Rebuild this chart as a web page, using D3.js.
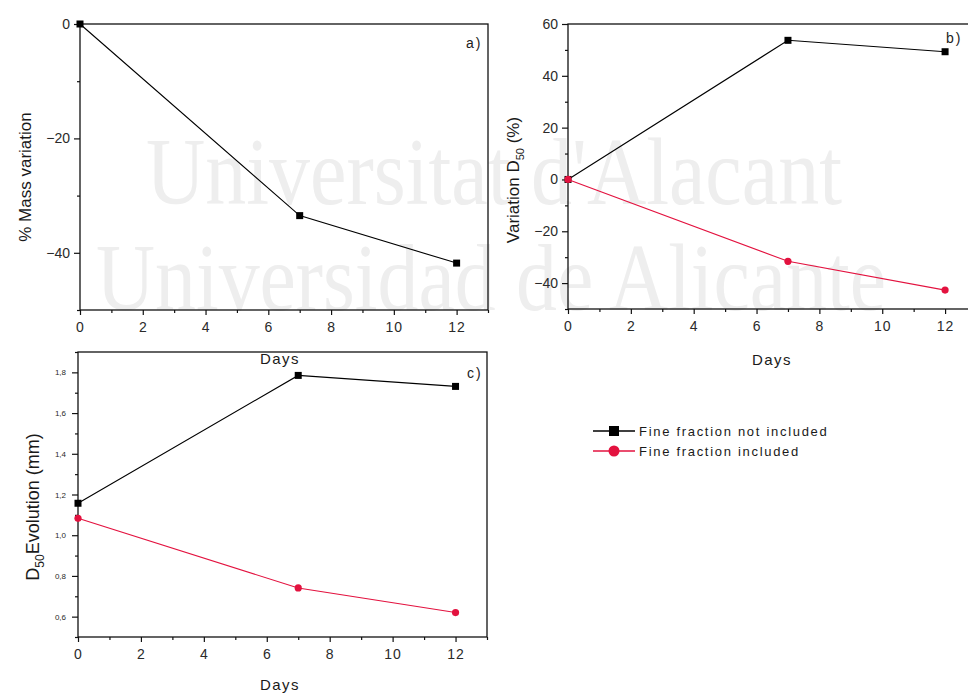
<!DOCTYPE html>
<html>
<head>
<meta charset="utf-8">
<script src="https://cdn.jsdelivr.net/npm/d3@7"></script>
<style>
  body { margin: 0; background: #fff; }
  text { font-family: "Liberation Sans", Arial, sans-serif; }
</style>
</head>
<body>
<script>
// values
var days = [0, 7, 12];
var massVariation = [0, -33.5, -41.8];            // a)
var d50VarNotIncluded = [0, 53.7, 49.3];          // b) black
var d50VarIncluded = [0, -31.6, -42.7];           // b) red
var d50NotIncluded = [1.157, 1.785, 1.731];       // c) black
var d50Included = [1.083, 0.741, 0.62];           // c) red
var seriesNames = ["Fine fraction not included", "Fine fraction included"];

var xTicks = [0, 2, 4, 6, 8, 10, 12],
    xMinor = [1, 3, 5, 7, 9, 11, 13];
var yTicksA = [0, -20, -40], yMinorA = [-10, -30, -50];
var yTicksB = [60, 40, 20, 0, -20, -40], yMinorB = [50, 30, 10, -10, -30, -50];
var yTicksC = [1.8, 1.6, 1.4, 1.2, 1.0, 0.8, 0.6], yMinorC = [1.9, 1.7, 1.5, 1.3, 1.1, 0.9, 0.7, 0.5];

var black = "#000", red = "#e3123f";

var svg = d3.select("body").append("svg")
    .attr("width", 968)
    .attr("height", 693);

// watermark
var wm = svg.append("g")
    .attr("fill", "#eeeeee")
    .attr("font-size", 96);
wm.append("text").attr("x", 146).attr("y", 204)
    .attr("textLength", 696).attr("lengthAdjust", "spacingAndGlyphs")
    .style("font-family", "'Liberation Serif', serif")
    .text("Universitat d'Alacant");
wm.append("text").attr("x", 96).attr("y", 310)
    .attr("textLength", 790).attr("lengthAdjust", "spacingAndGlyphs")
    .style("font-family", "'Liberation Serif', serif")
    .text("Universidad de Alicante");

function panel(o) {
  var x = d3.scaleLinear().domain([0, 13]).range([o.left, o.right]);
  var y = d3.scaleLinear().domain(o.yDomain).range([o.bottom, o.top]);
  var g = svg.append("g");

  // x axis, major + minor
  var xa = g.append("g").attr("transform", "translate(0," + o.bottom + ")")
      .call(d3.axisBottom(x).tickValues(xTicks).tickSize(5).tickPadding(7).tickSizeOuter(0));
  g.append("g").attr("transform", "translate(0," + o.bottom + ")")
      .call(d3.axisBottom(x).tickValues(xMinor).tickSize(3).tickFormat("").tickSizeOuter(0));

  // y axis, major + minor
  var ya = g.append("g").attr("transform", "translate(" + o.left + ",0)")
      .call(d3.axisLeft(y).tickValues(o.yTicks).tickSize(6).tickPadding(o.yPad).tickSizeOuter(0)
        .tickFormat(o.yFormat));
  g.append("g").attr("transform", "translate(" + o.left + ",0)")
      .call(d3.axisLeft(y).tickValues(o.yMinor).tickSize(3).tickFormat("").tickSizeOuter(0));

  g.selectAll(".domain").remove();
  g.selectAll(".tick line").attr("stroke", "#111").attr("stroke-width", 1.2);
  xa.selectAll("text").attr("font-size", 14).attr("fill", "#2a2a2a")
      .style("letter-spacing", "1px");
  ya.selectAll("text").attr("font-size", o.yFont).attr("fill", "#2a2a2a");

  // frame
  g.append("rect")
      .attr("x", o.left).attr("y", o.top)
      .attr("width", o.right - o.left).attr("height", o.bottom - o.top)
      .attr("fill", "none").attr("stroke", "#111").attr("stroke-width", 1.3);

  // series
  o.series.forEach(function(s) {
    var pts = days.map(function(d, i) { return [d, s.values[i]]; });
    g.append("path")
        .datum(pts)
        .attr("fill", "none")
        .attr("stroke", s.color)
        .attr("stroke-width", 1.1)
        .attr("d", d3.line().x(function(d) { return x(d[0]); }).y(function(d) { return y(d[1]); }));
    if (s.shape == "square") {
      g.selectAll(null).data(pts).enter().append("rect")
          .attr("x", function(d) { return x(d[0]) - 3.5; })
          .attr("y", function(d) { return y(d[1]) - 3.5; })
          .attr("width", 7).attr("height", 7)
          .attr("fill", s.color);
    } else {
      g.selectAll(null).data(pts).enter().append("circle")
          .attr("cx", function(d) { return x(d[0]); })
          .attr("cy", function(d) { return y(d[1]); })
          .attr("r", 3.6)
          .attr("fill", s.color);
    }
  });

  // panel letter
  g.append("text").attr("x", o.tagX).attr("y", o.tagY)
      .attr("font-size", 14).attr("fill", "#222")
      .style("letter-spacing", "2px")
      .text(o.tag);
  return g;
}

panel({
  left: 80, right: 488, top: 24, bottom: 310,
  yDomain: [-50, 0], yTicks: yTicksA, yMinor: yMinorA, yPad: 4, yFont: 14,
  yFormat: d3.format("d"),
  series: [{ values: massVariation, color: black, shape: "square" }],
  tag: "a)", tagX: 466, tagY: 48
});

panel({
  left: 568, right: 976.5, top: 24, bottom: 309,
  yDomain: [-50, 60], yTicks: yTicksB, yMinor: yMinorB, yPad: 4, yFont: 14,
  yFormat: d3.format("d"),
  series: [
    { values: d50VarNotIncluded, color: black, shape: "square" },
    { values: d50VarIncluded, color: red, shape: "circle" }
  ],
  tag: "b)", tagX: 946, tagY: 43
});

panel({
  left: 78, right: 487, top: 352, bottom: 637,
  yDomain: [0.5, 1.9], yTicks: yTicksC, yMinor: yMinorC, yPad: 6, yFont: 8,
  yFormat: function(d) { return d3.format(".1f")(d).replace(".", ","); },
  series: [
    { values: d50NotIncluded, color: black, shape: "square" },
    { values: d50Included, color: red, shape: "circle" }
  ],
  tag: "c)", tagX: 467, tagY: 378
});

// axis titles
function title(xp, yp, rot, size, spacing) {
  return svg.append("text")
      .attr("transform", "translate(" + xp + "," + yp + ")" + (rot ? " rotate(-90)" : ""))
      .attr("text-anchor", "middle")
      .attr("font-size", size)
      .attr("fill", "#1a1a1a")
      .style("letter-spacing", spacing);
}
title(280, 364, false, 15, "1.5px").text("Days");
title(772, 365, false, 15, "1.5px").text("Days");
title(280, 690, false, 15, "1.5px").text("Days");

title(31, 177, true, 17, "0px").text("% Mass variation");

var tb = title(519, 180, true, 17, "0px");
tb.append("tspan").text("Variation D");
tb.append("tspan").attr("font-size", 11).attr("dy", 5).text("50");
tb.append("tspan").attr("dy", -5).text(" (%)");

var tc = title(39, 507, true, 18, "0px");
tc.append("tspan").text("D");
tc.append("tspan").attr("font-size", 12).attr("dy", 5).text("50");
tc.append("tspan").attr("dy", -5).text("Evolution (mm)");

// legend
var legend = svg.append("g").attr("transform", "translate(593,431)");
var li = legend.selectAll("g").data(seriesNames).enter().append("g")
    .attr("transform", function(d, i) { return "translate(0," + i * 20 + ")"; });
li.append("line").attr("x1", 0).attr("x2", 42).attr("y1", 0).attr("y2", 0)
    .attr("stroke", function(d, i) { return i ? red : black; }).attr("stroke-width", 1.3);
li.each(function(d, i) {
  var s = d3.select(this);
  if (i == 0) {
    s.append("rect").attr("x", 16).attr("y", -5).attr("width", 10).attr("height", 10).attr("fill", black);
  } else {
    s.append("circle").attr("cx", 21).attr("cy", 0).attr("r", 5.5).attr("fill", red);
  }
});
li.append("text").attr("x", 46).attr("y", 5)
    .attr("font-size", 13).attr("fill", "#1a1a1a")
    .style("letter-spacing", "1.7px")
    .text(function(d) { return d; });
</script>
</body>
</html>
